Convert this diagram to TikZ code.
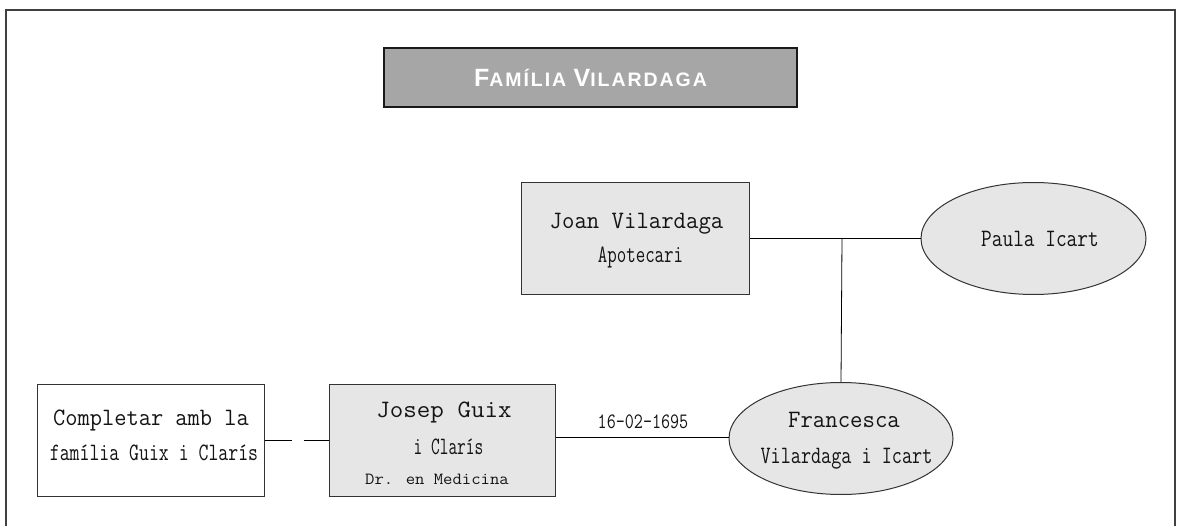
\documentclass[tikz,border=0pt]{standalone}
\usepackage{fontspec}
\usepackage{graphicx}
\newfontfamily\ttlsans[LetterSpace=10]{Liberation Sans}
\usetikzlibrary{shapes.geometric}
\definecolor{boxfill}{HTML}{E6E6E6}
\definecolor{titlefill}{HTML}{A6A6A6}
\definecolor{framecol}{HTML}{404040}
\definecolor{edgecol}{HTML}{333333}
\tikzset{
  person/.style={draw=edgecol, line width=1pt, fill=boxfill, rectangle, minimum width=228pt, minimum height=112pt, inner sep=0pt},
  plainbox/.style={draw=edgecol, line width=1pt, fill=white, rectangle, minimum width=227pt, minimum height=112pt, inner sep=0pt},
  spouse/.style={draw=edgecol, line width=1pt, fill=boxfill, ellipse, minimum width=225pt, minimum height=112pt, inner sep=0pt},
  titlebox/.style={draw=black!90, line width=2.5pt, fill=titlefill, rectangle, minimum width=413pt, minimum height=59pt, inner sep=0pt, text=white, font=\ttlsans\bfseries},
  link/.style={draw=black, line width=0.8pt},
  txt/.style={anchor=base, inner sep=0pt, text=black!92, font=\ttfamily\fontsize{25}{30}\selectfont},
  smalltxt/.style={txt, font=\ttfamily\fontsize{17}{20}\selectfont},
  datetxt/.style={txt, font=\ttfamily\fontsize{22}{26}\selectfont}
}
\begin{document}
\begin{tikzpicture}[x=1pt,y=-1pt]
\useasboundingbox (0,0) rectangle (1177,526);
\draw[framecol, line width=2pt] (6,540) -- (6,10) -- (1175,10) -- (1175,540);

\node[titlebox] (title) at (590.5,77.5) {\fontsize{25}{28}\selectfont F\fontsize{19.5}{22}\selectfont AMÍLIA \fontsize{25}{28}\selectfont V\fontsize{19.5}{22}\selectfont ILARDAGA};

% boxes
\node[person] (joan) at (635.5,238.5) {};
\node[spouse] (paula) at (1033.5,238.5) {};
\node[spouse, minimum width=224pt] (francesca) at (841,438.5) {};
\node[person, minimum width=226pt] (josep) at (442,440) {};
\node[plainbox] (completar) at (150.5,440) {};

% texts
\node[txt] (joanname) at (636.5,229) {\scalebox{0.963}[1]{Joan Vilardaga}};
\node[txt] (joanjob) at (640.5,263) {\scalebox{0.737}[1]{Apotecari}};
\node[txt] (paulaname) at (1040,247) {\scalebox{0.83}[1]{Paula Icart}};
\node[txt] (franname1) at (844,427) {\scalebox{0.965}[1]{Francesca}};
\node[txt] (franname2) at (846.5,463) {\scalebox{0.785}[1]{Vilardaga i Icart}};
\node[txt] (josepname1) at (444,417) {\scalebox{1.05}[1]{Josep Guix}};
\node[txt] (josepname2) at (448.5,454) {\scalebox{0.676}[1]{i Clarís}};
\node[smalltxt] (josepjob) at (437,484) {\scalebox{1.07}[1]{Dr. en Medicina}};
\node[txt] (compl1) at (151,425.5) {\scalebox{0.95}[1]{Completar amb la}};
\node[txt] (compl2) at (154,460) {\scalebox{0.77}[1]{família Guix i Clarís}};

% connectors
\coordinate (join) at (842,238.5);
\draw[link] (joan.east) -- (paula.west);
\draw[link] (join) -- (francesca.north);
\draw[link] (josep.east |- 0,437.5) -- (francesca.west |- 0,437.5);
\draw[link, dash pattern=on 27pt off 12pt on 26pt off 0pt] (completar.east) -- (josep.west);
\node[datetxt] (date) at (643,428) {\scalebox{0.8}[1]{16-02-1695}};
\end{tikzpicture}
\end{document}
